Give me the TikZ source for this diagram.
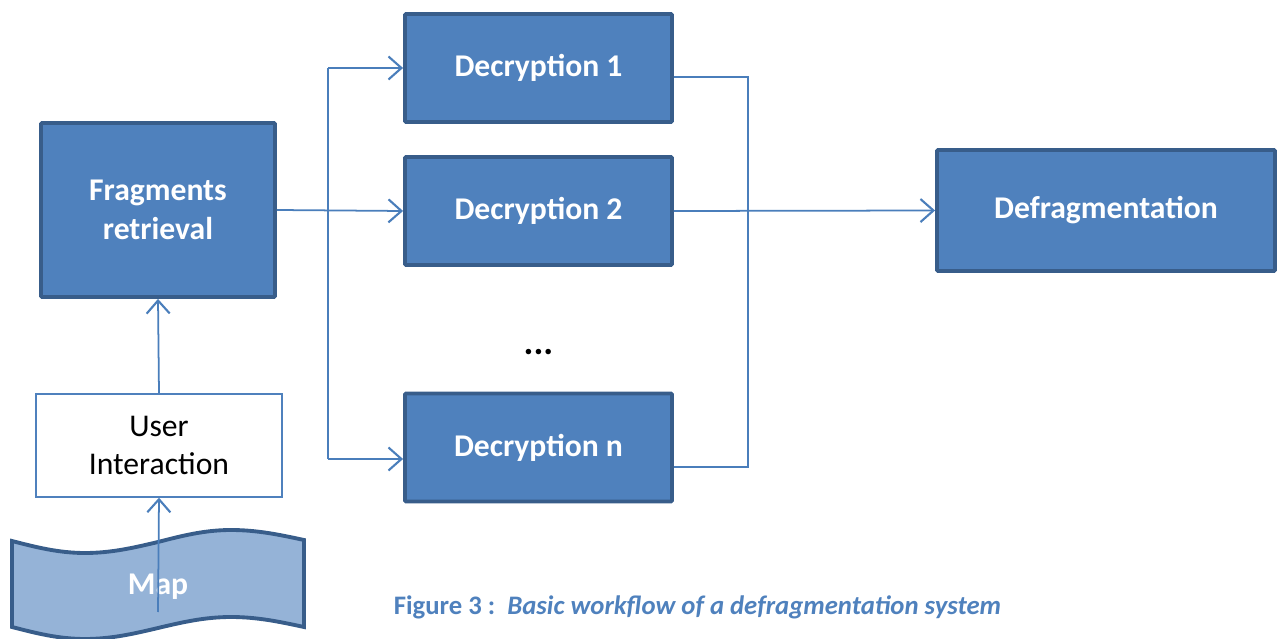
\documentclass[tikz,border=0pt]{standalone}
\usepackage{fontspec}
\setmainfont{Carlito}
\usetikzlibrary{arrows.meta}

\definecolor{boxfill}{HTML}{4F81BD}
\definecolor{boxline}{HTML}{385D8A}
\definecolor{mapfill}{HTML}{95B3D7}
\definecolor{wire}{HTML}{4A7EBB}

\tikzset{
  stagebox/.style={draw=boxline, fill=boxfill, line width=2.2pt, rounded corners=0.6pt,
    text=white, font=\fontsize{18}{22}\selectfont\bfseries, align=center, inner sep=0pt},
  plainbox/.style={draw=boxfill, fill=white, line width=0.8pt,
    font=\fontsize{18}{21.5}\selectfont, align=center, inner sep=0pt},
  flow/.style={draw=wire, line width=1pt, -{Straight Barb[length=2.6mm,width=4.6mm,line width=1.2pt]}},
  wireline/.style={draw=wire, line width=1pt}
}

\begin{document}
\begin{tikzpicture}
    \useasboundingbox (0,0) rectangle (25.56,12.78);

    % Boxes
    \node[stagebox, minimum width=4.68cm, minimum height=3.48cm] (frag) at (3.16,8.58) {Fragments\\retrieval};
    \node[stagebox, minimum width=5.34cm, minimum height=2.16cm] (dec1) at (10.77,11.42) {Decryption 1};
    \node[stagebox, minimum width=5.34cm, minimum height=2.16cm] (dec2) at (10.77,8.56) {Decryption 2};
    \node[stagebox, minimum width=5.34cm, minimum height=2.16cm] (decn) at (10.77,3.83) {Decryption n};
    \node[stagebox, minimum width=6.76cm, minimum height=2.42cm] (defrag) at (22.12,8.57) {Defragmentation};
    \node[plainbox, minimum width=4.92cm, minimum height=2.06cm] (user) at (3.18,3.87) {User\\Interaction};
    \node[font=\fontsize{21}{24}\selectfont\bfseries] (dots) at (10.77,5.74) {...};

    % Map (punched tape)
    \draw[draw=boxline, fill=mapfill, line width=2.2pt]
        (0.24,1.96) sin (1.70,1.72) cos (3.16,1.94) sin (4.62,2.18) cos (6.08,1.98)
        -- (6.08,0.24) sin (4.62,0.44) cos (3.16,0.22) sin (1.70,0.0) cos (0.24,0.24) -- cycle;
    \node[text=white, font=\fontsize{18}{22}\selectfont\bfseries] (map) at (3.16,1.04) {Map};

    % Connectors
    \coordinate (split) at (6.56,8.58);
    \coordinate (merge) at (14.96,8.56);
    \coordinate (mapout) at ([yshift=-0.5cm]map.center);
    \coordinate (decnin) at ([yshift=-0.23cm]decn.west);
    \coordinate (dec1out) at ([yshift=-0.18cm]dec1.east);
    \coordinate (decnout) at ([yshift=-0.39cm]decn.east);
    \draw[flow] (mapout) -- (user.south);
    \draw[flow] (user.north) -- (frag.south);
    \draw[flow] (frag.east) -- (dec2.west);
    \draw[flow] (split |- dec1.west) -- (dec1.west);
    \draw[flow] (split |- decnin) -- (decnin);
    \draw[wireline] (split |- dec1.west) -- (split |- decnin);
    \draw[wireline] (dec1out) -| (merge) |- (decnout);
    \draw[flow] (dec2.east) -- (defrag.west);

    % Caption
    \node[text=boxfill, font=\fontsize{15.2}{18}\selectfont\bfseries] (caption) at (13.95,0.64)
        {Figure 3 :\ \ \textit{Basic workflow of a defragmentation system}};
\end{tikzpicture}
\end{document}
